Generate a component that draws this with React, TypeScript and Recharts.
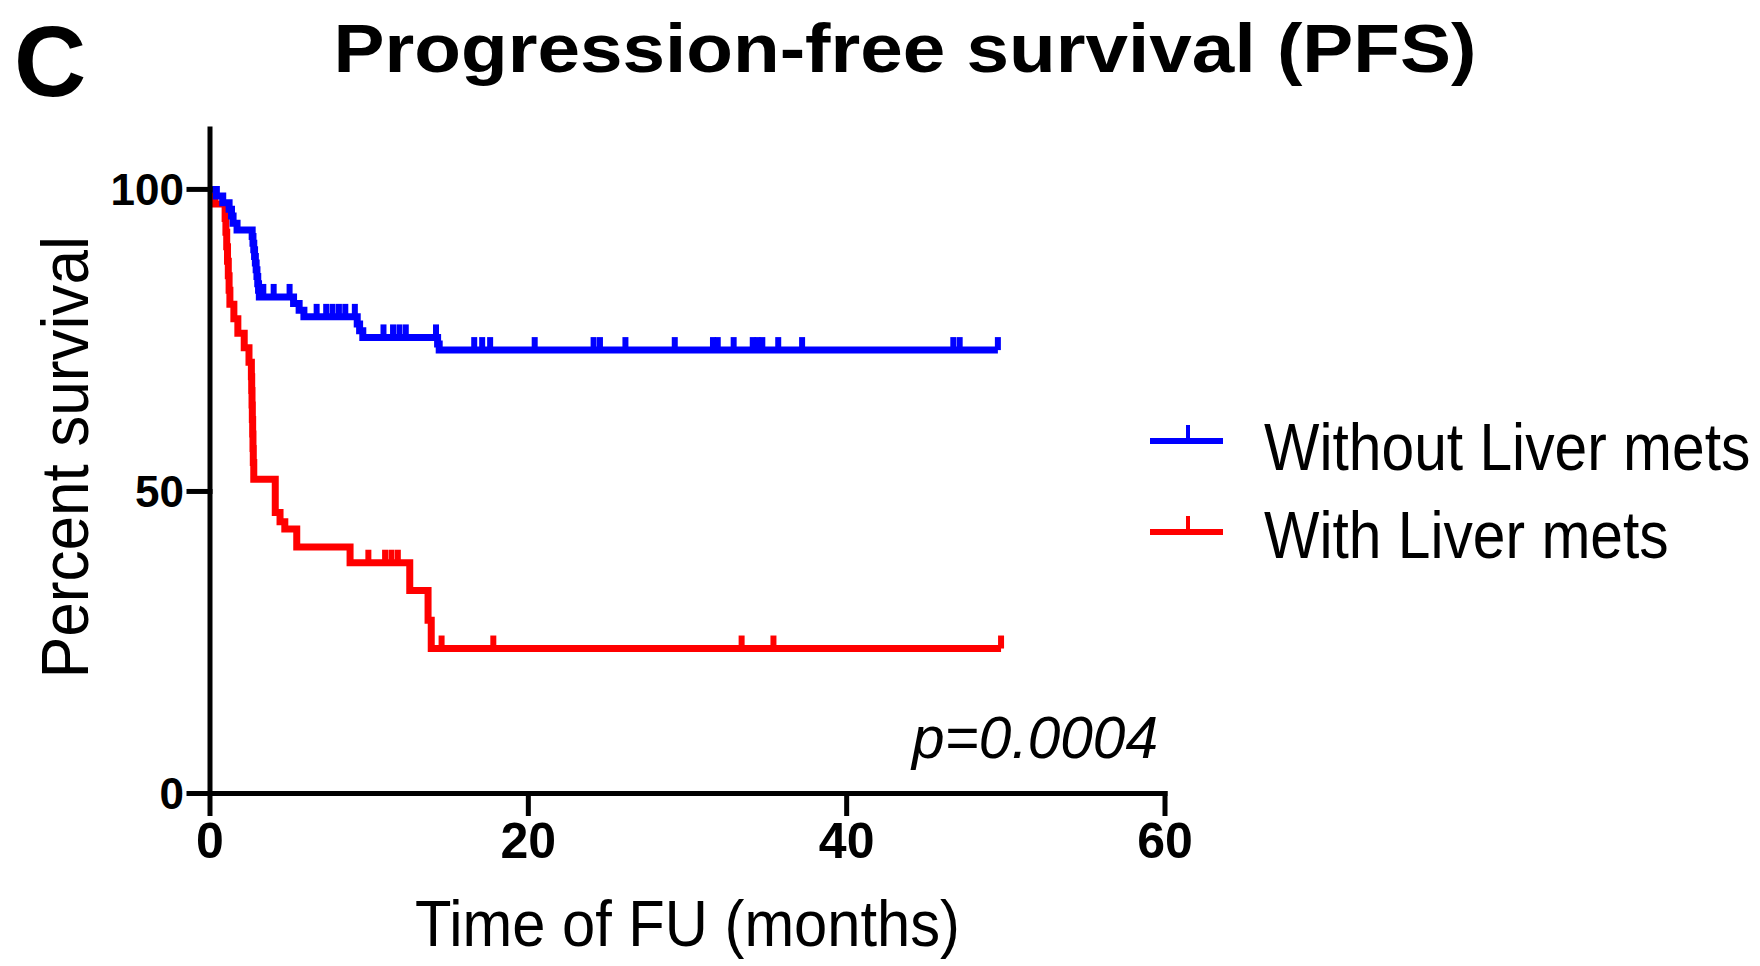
import { ComposedChart, Line, Scatter, XAxis, YAxis, Legend, Label } from "recharts";

// Kaplan-Meier steps (months, % surviving)
const withoutLiverTime = [0, 0.4, 0.8, 1.2, 1.35, 1.45, 1.7, 2.65, 2.7, 2.75, 2.8, 2.85, 2.9, 2.95, 3.0, 3.05, 3.1, 5.25, 5.6, 5.9, 9.25, 9.4, 9.6, 14.3, 14.4, 49.5];
const withoutLiverSurvival = [100, 98.9, 97.8, 96.7, 95.6, 94.4, 93.3, 92.2, 91.1, 90.0, 88.9, 87.8, 86.7, 85.6, 84.4, 83.3, 82.2, 81.1, 80.0, 78.9, 77.7, 76.6, 75.5, 74.4, 73.4, 73.4];
const withoutLiverCensored = [3.35, 4.0, 5.0, 6.7, 7.3, 7.7, 8.1, 8.5, 9.1, 10.9, 11.5, 11.9, 12.3, 14.2, 16.6, 17.1, 17.6, 20.4, 24.1, 24.5, 26.1, 29.2, 31.6, 31.9, 32.9, 34.1, 34.4, 34.7, 35.7, 37.2, 46.7, 47.1, 49.5];

const withLiverTime = [0, 0.3, 0.95, 1.0, 1.05, 1.1, 1.15, 1.2, 1.25, 1.5, 1.75, 2.15, 2.45, 2.6, 2.62, 2.64, 2.66, 2.68, 2.7, 2.72, 2.75, 4.1, 4.4, 4.7, 5.45, 8.8, 12.55, 13.7, 13.9, 49.7];
const withLiverSurvival = [100, 97.6, 95.2, 92.9, 90.5, 88.1, 85.7, 83.3, 81.0, 78.6, 76.2, 73.8, 71.4, 69.0, 66.7, 64.3, 61.9, 59.5, 57.1, 54.8, 52.0, 46.5, 45.0, 43.8, 40.8, 38.2, 33.6, 28.7, 24.0, 24.0];
const withLiverCensored = [9.95, 11.0, 11.4, 11.8, 14.55, 17.8, 33.4, 35.4, 49.7];

const xTicks = [0, 20, 40, 60];
const yTicks = [0, 50, 100];

const BLUE = "#0000ff";
const RED = "#ff0000";
const FONT = "'Liberation Sans', Arial, Helvetica, sans-serif";

const toSeries = (times: number[], surv: number[]) => times.map((t, i) => ({ t, s: surv[i] }));

// value of the step curve at a censoring time
const survivalAt = (times: number[], surv: number[], t: number) => {
  let v = surv[0];
  times.forEach((tt, i) => {
    if (tt <= t) v = surv[i];
  });
  return v;
};

const withoutData = toSeries(withoutLiverTime, withoutLiverSurvival);
const withData = toSeries(withLiverTime, withLiverSurvival);
const withoutCensor = withoutLiverCensored.map(t => ({ t, s: survivalAt(withoutLiverTime, withoutLiverSurvival, t) }));
const withCensor = withLiverCensored.map(t => ({ t, s: survivalAt(withLiverTime, withLiverSurvival, t) }));

const CensorTick = ({ cx, cy, color }: any) => (
  <line x1={cx} x2={cx} y1={cy} y2={cy - 13} stroke={color} strokeWidth={6} />
);

// the original font is narrower than Liberation Sans, so squeeze horizontally
const renderLegend = () => (
  <svg width={615} height={180}>
    <line x1={10} x2={83} y1={41} y2={41} stroke={BLUE} strokeWidth={6} />
    <line x1={48} x2={48} y1={25} y2={41} stroke={BLUE} strokeWidth={4} />
    <text transform="translate(124, 70) scale(0.89, 1)" fontSize={66} fontFamily={FONT} fill="#000">
      Without Liver mets
    </text>
    <line x1={10} x2={83} y1={132} y2={132} stroke={RED} strokeWidth={6} />
    <line x1={48} x2={48} y1={116} y2={132} stroke={RED} strokeWidth={4} />
    <text transform="translate(124, 158) scale(0.89, 1)" fontSize={66} fontFamily={FONT} fill="#000">
      With Liver mets
    </text>
  </svg>
);

const axisStroke = { stroke: "#000", strokeWidth: 5, strokeLinecap: "square" as const };

const App = () => {
  return (
    <div style={{ position: "absolute", left: 0, top: 0, width: 1760, height: 966, background: "#fff" }}>
      <ComposedChart width={1760} height={966} margin={{ top: 129, right: 595, bottom: 0, left: 0 }}>
        <XAxis
          type="number"
          dataKey="t"
          domain={[0, 60]}
          ticks={xTicks}
          height={172.5}
          tickSize={20}
          tickMargin={9}
          axisLine={axisStroke}
          tickLine={axisStroke}
          tick={{ fontSize: 50, fontWeight: "bold", fill: "#000", fontFamily: FONT }}
        >
          <Label
            content={({ viewBox }: any) => (
              <text
                x={viewBox.x + viewBox.width / 2}
                y={viewBox.y + 152}
                textAnchor="middle"
                fontSize={65}
                fontFamily={FONT}
                fill="#000"
                textLength={545}
                lengthAdjust="spacingAndGlyphs"
              >
                Time of FU (months)
              </text>
            )}
          />
        </XAxis>
        <YAxis
          type="number"
          domain={[0, 110]}
          ticks={yTicks}
          width={210}
          tickSize={21}
          tickMargin={5}
          axisLine={axisStroke}
          tickLine={axisStroke}
          tick={{ fontSize: 44, fontWeight: "bold", fill: "#000", fontFamily: FONT }}
        >
          <Label
            content={({ viewBox }: any) => (
              <text
                transform={`translate(${viewBox.x + 88}, ${viewBox.y + viewBox.height / 2 - 4}) rotate(-90)`}
                textAnchor="middle"
                fontSize={67}
                fontFamily={FONT}
                fill="#000"
                textLength={442}
                lengthAdjust="spacingAndGlyphs"
              >
                Percent survival
              </text>
            )}
          />
        </YAxis>
        <Legend
          layout="horizontal"
          verticalAlign="middle"
          align="center"
          content={renderLegend}
          wrapperStyle={{ left: 1140, top: 400, width: 615, height: 180 }}
        />
        <Line
          data={withData}
          dataKey="s"
          type="stepAfter"
          stroke={RED}
          strokeWidth={7}
          dot={false}
          isAnimationActive={false}
        />
        <Scatter
          data={withCensor}
          dataKey="s"
          shape={(p: any) => <CensorTick {...p} color={RED} />}
          isAnimationActive={false}
        />
        <Line
          data={withoutData}
          dataKey="s"
          type="stepAfter"
          stroke={BLUE}
          strokeWidth={7}
          dot={false}
          isAnimationActive={false}
        />
        <Scatter
          data={withoutCensor}
          dataKey="s"
          shape={(p: any) => <CensorTick {...p} color={BLUE} />}
          isAnimationActive={false}
        />
      </ComposedChart>

      {/* panel letter, title and p-value */}
      <svg width={1760} height={966} style={{ position: "absolute", left: 0, top: 0, pointerEvents: "none" }}>
        <text x={14} y={96} fontSize={100} fontWeight="bold" fontFamily={FONT} fill="#000">C</text>
        <text
          x={905}
          y={72}
          textAnchor="middle"
          fontSize={68}
          fontWeight="bold"
          fontFamily={FONT}
          fill="#000"
          textLength={1143}
          lengthAdjust="spacingAndGlyphs"
        >
          Progression-free survival (PFS)
        </text>
        <text
          x={1158}
          y={758}
          textAnchor="end"
          fontSize={60}
          fontStyle="italic"
          fontFamily={FONT}
          fill="#000"
          textLength={246}
          lengthAdjust="spacingAndGlyphs"
        >
          p=0.0004
        </text>
      </svg>
    </div>
  );
};

export default App;
